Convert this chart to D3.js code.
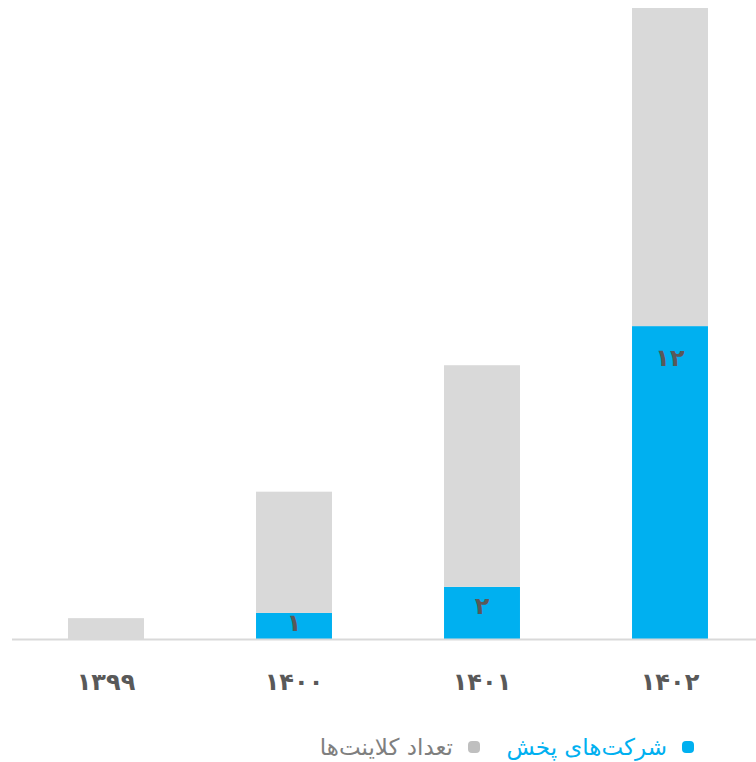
<!DOCTYPE html>
<html>
<head>
<meta charset="utf-8">
<script src="https://cdn.jsdelivr.net/npm/d3@7"></script>
<style>
  html, body { margin: 0; padding: 0; background: #ffffff; }
  svg { display: block; }
</style>
</head>
<body>
<div id="chart"></div>
<script>
// Years (Persian calendar) and the two stacked series
const years = ["۱۳۹۹", "۱۴۰۰", "۱۴۰۱", "۱۴۰۲"];
const distributors = [0, 1, 2, 12];          // شرکت‌های پخش
const clients = [0.8, 4.65, 8.5, 12.2];      // تعداد کلاینت‌ها
const distributorLabels = ["", "۱", "۲", "۱۲"];
const seriesNames = ["شرکت\u200cهای پخش", "تعداد کلاینت\u200cها"];
const seriesColors = ["#00B0F0", "#D9D9D9"];

const W = 756, H = 762;
const baseY = 639, topY = 8;
const font = "'DejaVu Sans', sans-serif";

const svg = d3.select("#chart").append("svg")
  .attr("width", W).attr("height", H);

const x = d3.scaleBand()
  .domain(years)
  .range([12, 764])
  .paddingInner(0.596)
  .paddingOuter(0.298);

const y = d3.scaleLinear()
  .domain([0, 24.2])
  .range([baseY, topY]);

const rows = years.map((yr, i) => ({ year: yr, d: distributors[i], c: clients[i], label: distributorLabels[i] }));
const stack = d3.stack().keys(["d", "c"])(rows);

svg.append("g").selectAll("g")
  .data(stack)
  .join("g")
  .attr("fill", (s, i) => seriesColors[i])
  .selectAll("rect")
  .data(s => s)
  .join("rect")
  .attr("x", p => x(p.data.year))
  .attr("width", x.bandwidth())
  .attr("y", p => y(p[1]))
  .attr("height", p => y(p[0]) - y(p[1]));

// Axis baseline and category labels
const axis = d3.axisBottom(x).tickSize(0).tickPadding(0);
const gx = svg.append("g").attr("transform", `translate(0,${baseY})`).call(axis);
gx.select(".domain").remove();
svg.append("line")
  .attr("x1", 12).attr("x2", W)
  .attr("y1", baseY + 0.5).attr("y2", baseY + 0.5)
  .attr("stroke", "#D9D9D9").attr("stroke-width", 2);
gx.selectAll("text")
  .attr("y", 51)
  .attr("dy", null)
  .attr("font-family", font)
  .attr("font-size", 24)
  .attr("font-weight", "bold")
  .attr("fill", "#595959");

// Value labels inside the blue segments
svg.append("g").selectAll("text")
  .data(rows.filter(r => r.label))
  .join("text")
  .attr("x", r => x(r.year) + x.bandwidth() / 2)
  .attr("y", r => {
    const top = y(r.d), h = baseY - top;
    return top + Math.min(h * 0.36, 31);
  })
  .attr("dy", "0.35em")
  .attr("text-anchor", "middle")
  .attr("font-family", font)
  .attr("font-size", 24)
  .attr("font-weight", "bold")
  .attr("fill", "#595959")
  .text(r => r.label);

// Legend (right to left)
const legend = svg.append("g").attr("transform", "translate(0,747)");
const legendItems = [
  { name: seriesNames[0], dot: "#00B0F0", text: "#00B0F0", dx: 688, tx: 667 },
  { name: seriesNames[1], dot: "#BFBFBF", text: "#7F7F7F", dx: 474, tx: 453 }
];
legendItems.forEach(it => {
  legend.append("rect")
    .attr("x", it.dx - 6).attr("y", -6)
    .attr("width", 12).attr("height", 12)
    .attr("rx", 4).attr("fill", it.dot);
  legend.append("text")
    .attr("x", it.tx).attr("y", 0)
    .attr("dy", "0.35em")
    .attr("text-anchor", "end")
    .attr("font-family", font)
    .attr("font-size", 23)
    .attr("fill", it.text)
    .text(it.name);
});
</script>
</body>
</html>
